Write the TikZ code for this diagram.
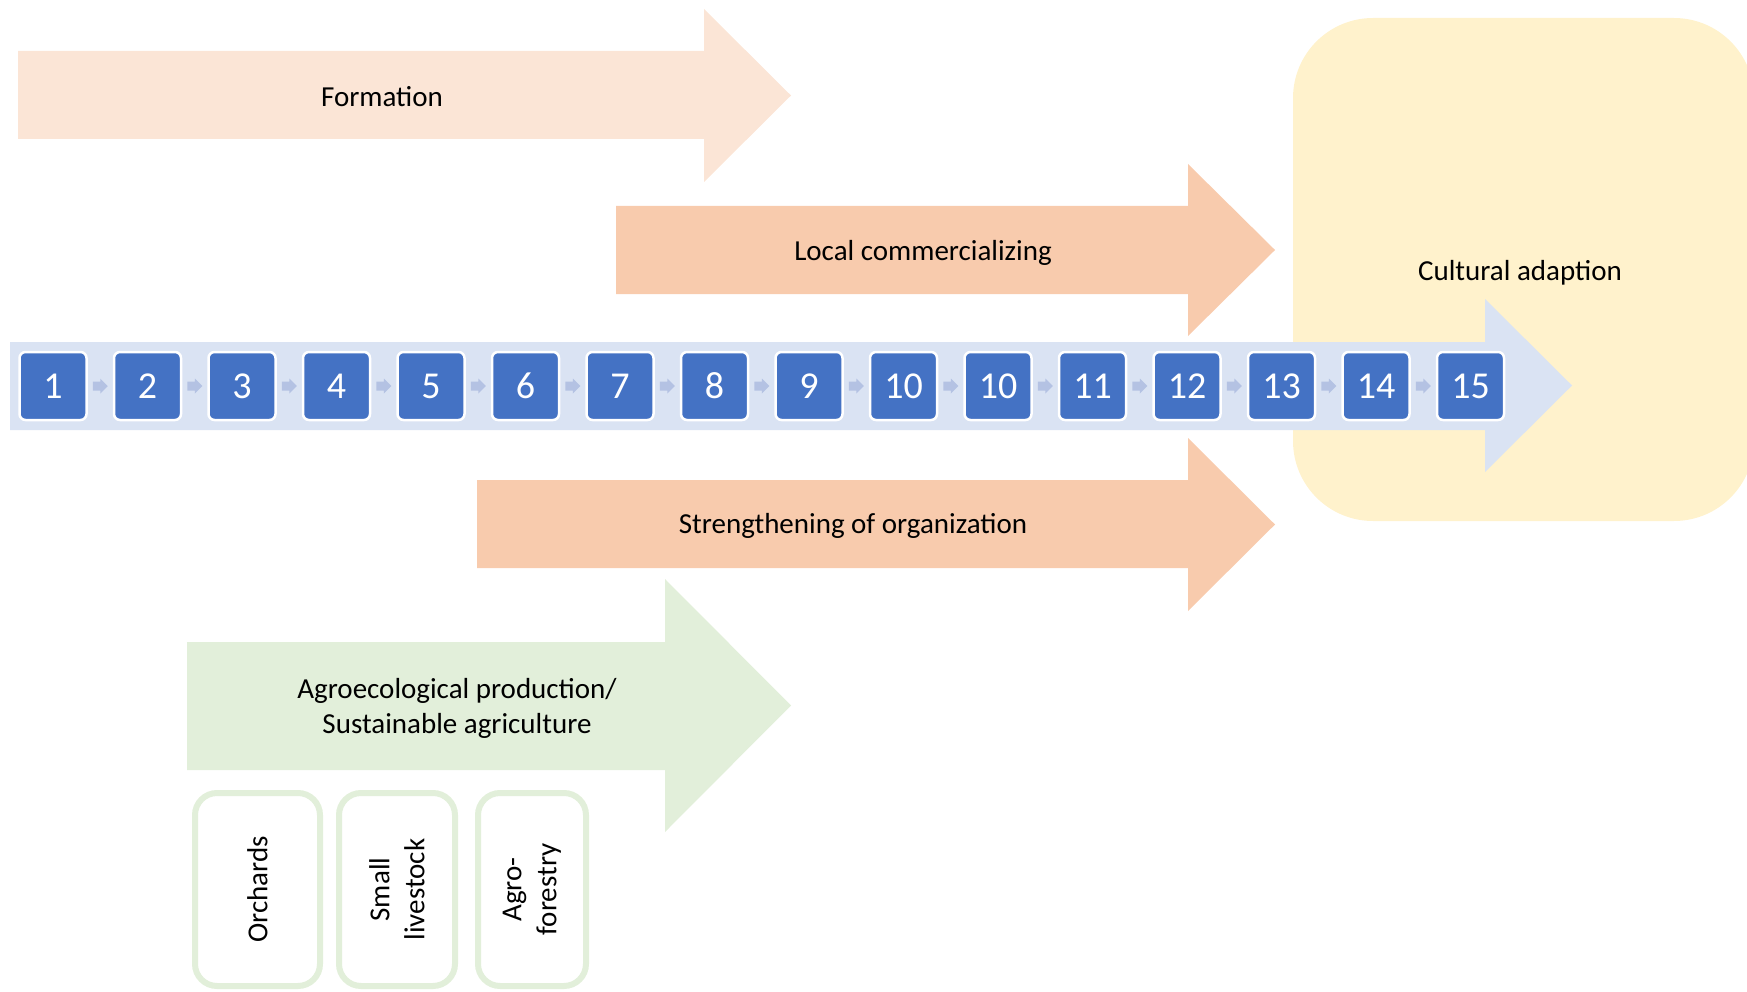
\documentclass[tikz,border=0pt]{standalone}
\usepackage{fontspec}
\setmainfont{Carlito}
\usetikzlibrary{calc}

\definecolor{formfill}{HTML}{FBE5D6}
\definecolor{orgfill}{HTML}{F8CBAD}
\definecolor{mainfill}{HTML}{DAE3F3}
\definecolor{agrofill}{HTML}{E2EFDA}
\definecolor{cultfill}{HTML}{FFF2CC}
\definecolor{stepblue}{HTML}{4472C4}
\definecolor{chevfill}{HTML}{B4C2E3}

% block arrow: fill, left x, body top, body bottom, head x, head top, head bottom, tip x
\newcommand\blockarrow[8]{%
  \fill[#1] (#2,#3) -- (#5,#3) -- (#5,#6) -- (#8,{(#6+#7)/2}) -- (#5,#7)
    -- (#5,#4) -- (#2,#4) -- cycle;}

\begin{document}
\begin{tikzpicture}[x=1pt,y=-1pt,
  lbl/.style={font=\fontsize{29}{35}\selectfont, text=black, align=center, inner sep=0pt, anchor=base},
  stepbox/.style={draw=white, line width=2.5pt, fill=stepblue, rounded corners=6pt,
    minimum width=67pt, minimum height=68pt, inner sep=0pt, text=white,
    font=\fontsize{38}{40}\selectfont},
  subbox/.style={draw=agrofill, line width=6pt, fill=white, rounded corners=22pt,
    inner sep=0pt, rotate=90, align=center, font=\fontsize{29}{35}\selectfont},
  chevron/.pic={\fill[chevfill] (-7.5,-4.5) -- (0,-4.5) -- (0,-7.5) -- (7.5,0)
    -- (0,7.5) -- (0,4.5) -- (-7.5,4.5) -- cycle;}
]
\useasboundingbox (0,0) rectangle (1747,992);

% cultural adaption panel
\fill[cultfill, rounded corners=80pt] (1293,18) rectangle (1754,521);
\node[lbl] (cult) at (1520,280) {Cultural adaption};

% theme arrows
\blockarrow{formfill}{18}{51}{139}{704}{9}{182}{791}
\node[lbl] (form) at (382,107) {Formation};

\blockarrow{orgfill}{616}{206}{294}{1188}{164}{336}{1275}
\node[lbl] (comm) at (923,261) {Local commercializing};

\blockarrow{orgfill}{477}{480}{568}{1188}{438}{611}{1275}
\node[lbl] (orga) at (853,533) {Strengthening of organization};

\blockarrow{agrofill}{187}{642}{770}{665}{579}{832}{791}
\node[lbl] (agro) at (457,733) {Agroecological production/\\Sustainable agriculture};

% main process arrow with numbered steps
\blockarrow{mainfill}{10}{342}{430}{1485}{299}{472}{1572}
\foreach \lab [count=\k from 0] in {1,2,3,4,5,6,7,8,9,10,10,11,12,13,14,15}
  \node[stepbox] (s\k) at ({53+94.5*\k},386) {\lab};
\foreach \k [remember=\k as \p (initially 0)] in {1,...,15}
  \pic at ($(s\p.east)!0.5!(s\k.west)$) {chevron};

% production branches
\node[subbox, minimum width=193pt, minimum height=125pt] (orch) at (257.5,889.5) {Orchards};
\node[subbox, minimum width=193pt, minimum height=116pt] (live) at (397,889.5) {Small\\livestock};
\node[subbox, minimum width=193pt, minimum height=108pt] (fore) at (532,889.5) {Agro-\\forestry};
\end{tikzpicture}
\end{document}
